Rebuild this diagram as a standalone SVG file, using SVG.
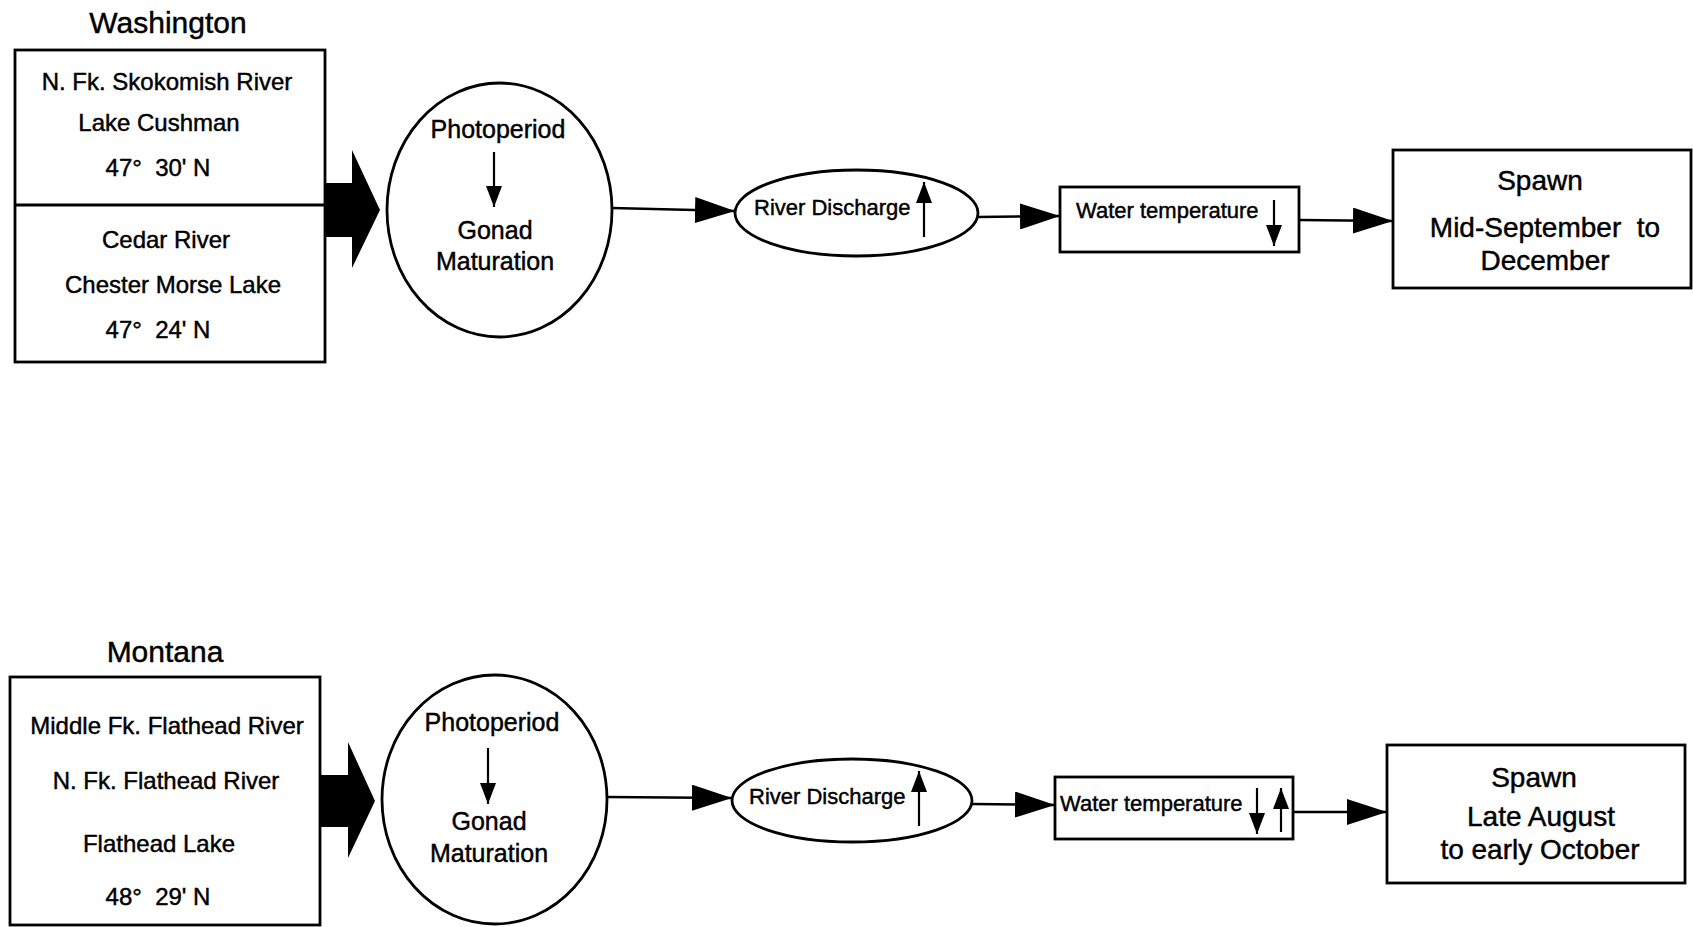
<svg xmlns="http://www.w3.org/2000/svg" width="1693" height="927" viewBox="0 0 1693 927">
<defs>
<style>
text{font-family:"Liberation Sans",Arial,Helvetica,sans-serif;fill:#000;stroke:#000;stroke-width:0.45}
.title{font-size:30px;text-anchor:middle}
.site{font-size:24px;text-anchor:middle;white-space:pre}
.circ{font-size:25px;text-anchor:middle}
.small{font-size:22px}
.spawn{font-size:28px;text-anchor:middle;white-space:pre}
.box{fill:#fff;stroke:#000;stroke-width:2.8}
.conn{stroke:#000;stroke-width:2.4;fill:none}
.inner{stroke:#000;stroke-width:2.2;fill:none}
.big{fill:#000}
</style>
<marker id="ah" markerUnits="userSpaceOnUse" markerWidth="40" markerHeight="26" refX="40" refY="13" orient="auto" viewBox="0 0 40 26">
<path d="M0,0 L40,13 L0,26 z" fill="#000"/>
</marker>
<marker id="sh" markerUnits="userSpaceOnUse" markerWidth="21" markerHeight="16" refX="21" refY="8" orient="auto" viewBox="0 0 21 16">
<path d="M0,0 L21,8 L0,16 z" fill="#000"/>
</marker>
</defs>
<rect width="1693" height="927" fill="#fff"/>

<g id="connectors">
<polygon class="big" points="325,183 352,183 352,150 380,210 352,268 352,237 325,237"/>
<line class="conn" x1="612" y1="208" x2="735" y2="211" marker-end="url(#ah)"/>
<line class="conn" x1="978" y1="217" x2="1060" y2="216" marker-end="url(#ah)"/>
<line class="conn" x1="1299" y1="220" x2="1393" y2="221" marker-end="url(#ah)"/>
<polygon class="big" points="320,775 348,775 348,742 375,801 348,858 348,827 320,827"/>
<line class="conn" x1="607" y1="797" x2="732" y2="798" marker-end="url(#ah)"/>
<line class="conn" x1="972" y1="804" x2="1055" y2="805" marker-end="url(#ah)"/>
<line class="conn" x1="1293" y1="812" x2="1387" y2="812" marker-end="url(#ah)"/>
</g>

<g id="washington">
<text class="title" x="168" y="33">Washington</text>
<rect class="box" x="15" y="50" width="310" height="312"/>
<line class="box" x1="15" y1="205" x2="325" y2="205"/>
<text class="site" x="167" y="90">N. Fk. Skokomish River</text>
<text class="site" x="159" y="131">Lake Cushman</text>
<text class="site" x="158" y="176">47°  30' N</text>
<text class="site" x="166" y="248">Cedar River</text>
<text class="site" x="173" y="293">Chester Morse Lake</text>
<text class="site" x="158" y="338">47°  24' N</text>
</g>

<g id="photoperiod-wa">
<ellipse class="box" cx="499.5" cy="210" rx="112.5" ry="127"/>
<text class="circ" x="498" y="138">Photoperiod</text>
<line class="inner" x1="494" y1="152" x2="494" y2="207" marker-end="url(#sh)"/>
<text class="circ" x="495" y="239">Gonad</text>
<text class="circ" x="495" y="270">Maturation</text>
</g>

<g id="discharge-wa">
<ellipse class="box" cx="856.5" cy="213" rx="121.5" ry="43"/>
<text class="small" x="754" y="215">River Discharge</text>
<line class="inner" x1="924" y1="237" x2="924" y2="182" marker-end="url(#sh)"/>
</g>

<g id="temp-wa">
<rect class="box" x="1060" y="187" width="239" height="65"/>
<text class="small" x="1076" y="218">Water temperature</text>
<line class="inner" x1="1274" y1="200" x2="1274" y2="246" marker-end="url(#sh)"/>
</g>

<g id="spawn-wa">
<rect class="box" x="1393" y="150" width="298" height="138"/>
<text class="spawn" x="1540" y="190">Spawn</text>
<text class="spawn" x="1545" y="237">Mid-September  to</text>
<text class="spawn" x="1545" y="270">December</text>
</g>

<g id="montana">
<text class="title" x="165" y="662">Montana</text>
<rect class="box" x="10" y="677" width="310" height="248"/>
<text class="site" x="167" y="734">Middle Fk. Flathead River</text>
<text class="site" x="166" y="789">N. Fk. Flathead River</text>
<text class="site" x="159" y="852">Flathead Lake</text>
<text class="site" x="158" y="905">48°  29' N</text>
</g>

<g id="photoperiod-mt">
<ellipse class="box" cx="494.5" cy="799.5" rx="112.5" ry="124.5"/>
<text class="circ" x="492" y="731">Photoperiod</text>
<line class="inner" x1="488" y1="748" x2="488" y2="804" marker-end="url(#sh)"/>
<text class="circ" x="489" y="830">Gonad</text>
<text class="circ" x="489" y="862">Maturation</text>
</g>

<g id="discharge-mt">
<ellipse class="box" cx="852" cy="800.5" rx="120" ry="41.5"/>
<text class="small" x="749" y="804">River Discharge</text>
<line class="inner" x1="919" y1="826" x2="919" y2="771" marker-end="url(#sh)"/>
</g>

<g id="temp-mt">
<rect class="box" x="1055" y="777" width="238" height="62"/>
<text class="small" x="1060" y="811">Water temperature</text>
<line class="inner" x1="1257" y1="788" x2="1257" y2="834" marker-end="url(#sh)"/>
<line class="inner" x1="1281" y1="832" x2="1281" y2="788" marker-end="url(#sh)"/>
</g>

<g id="spawn-mt">
<rect class="box" x="1387" y="745" width="298" height="138"/>
<text class="spawn" x="1534" y="787">Spawn</text>
<text class="spawn" x="1541" y="826">Late August</text>
<text class="spawn" x="1540" y="859">to early October</text>
</g>
</svg>
